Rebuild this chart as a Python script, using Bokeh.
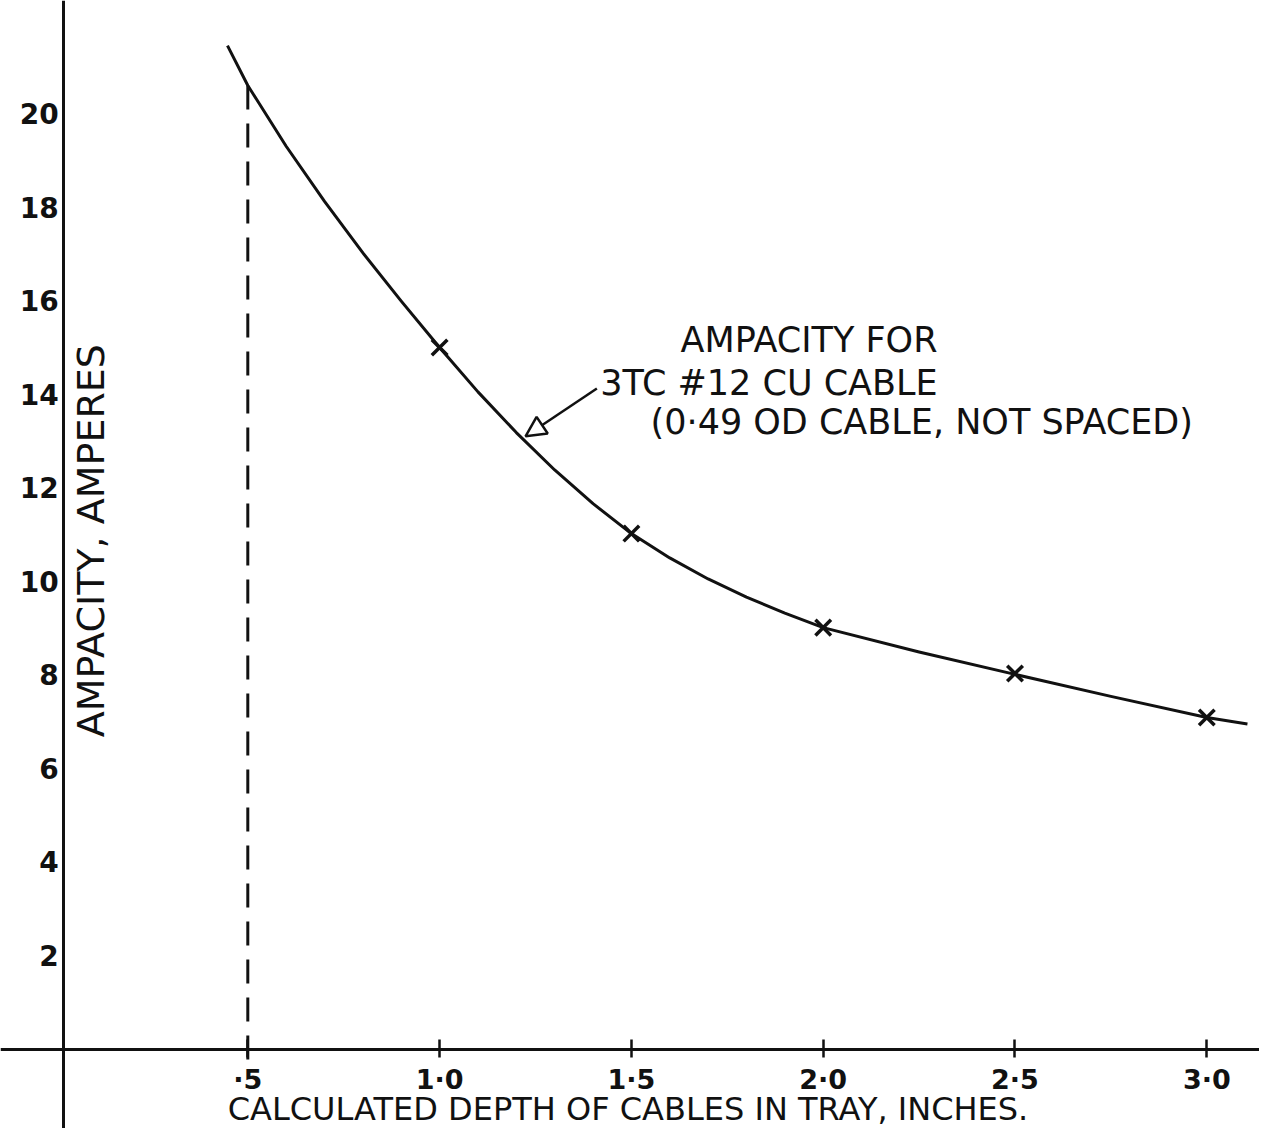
import math
from bokeh.plotting import figure
from bokeh.models import (Range1d, LinearAxis, FixedTicker, Label, Arrow,
                          NormalHead, CustomJSTickFormatter)
from bokeh.embed import file_html
from bokeh.resources import INLINE

# ---- data ----
curve_depth = [0.447, 0.5, 0.6, 0.7, 0.8, 0.9, 1.0, 1.1, 1.2, 1.3, 1.4, 1.5,
               1.6, 1.7, 1.8, 1.9, 2.0, 2.25, 2.5, 2.75, 3.0, 3.106]
curve_ampacity = [21.45, 20.6, 19.3, 18.12, 17.02, 15.99, 15.0, 14.05, 13.18,
                  12.38, 11.66, 11.02, 10.5, 10.05, 9.66, 9.32, 9.01, 8.49,
                  8.01, 7.54, 7.09, 6.95]

point_depth = [1.0, 1.5, 2.0, 2.5, 3.0]
point_ampacity = [15.0, 11.02, 9.01, 8.03, 7.09]

marked_depth = [0.5, 0.5]
marked_ampacity = [20.6, -0.3]

x_ticks = [0.5, 1.0, 1.5, 2.0, 2.5, 3.0]
x_tick_labels = ["·5", "1·0", "1·5", "2·0", "2·5", "3·0"]
y_ticks = [2, 4, 6, 8, 10, 12, 14, 16, 18, 20]
y_tick_labels = ["2", "4", "6", "8", "10", "12", "14", "16", "18", "20"]

x_title = "CALCULATED DEPTH OF CABLES IN TRAY, INCHES."
y_title = "AMPACITY, AMPERES"
note_lines = ["AMPACITY FOR", "3TC #12 CU CABLE", "(0·49 OD CABLE, NOT SPACED)"]

FONT = "DejaVu Sans"
INK = "#111111"

p = figure(width=1259, height=1128,
           x_range=Range1d(-0.1447, 3.1374), y_range=Range1d(-1.697, 22.416),
           output_backend="svg", toolbar_location=None, min_border=0,
           x_axis_type=None, y_axis_type=None)
p.outline_line_color = None
p.background_fill_color = "white"
p.border_fill_color = "white"

fmt_js = """
const i = tick_vals.findIndex(t => Math.abs(t - tick) < 1e-6);
return i >= 0 ? tick_text[i] : "";
"""

xaxis = LinearAxis(fixed_location=0,
                   ticker=FixedTicker(ticks=x_ticks),
                   formatter=CustomJSTickFormatter(args=dict(tick_vals=x_ticks, tick_text=x_tick_labels), code=fmt_js))
xaxis.axis_line_width = 3
xaxis.axis_line_color = INK
xaxis.major_tick_in = 10
xaxis.major_tick_out = 8
xaxis.major_tick_line_width = 2.5
xaxis.major_tick_line_color = INK
xaxis.minor_tick_line_color = None
xaxis.major_label_standoff = 7
xaxis.major_label_text_font = FONT
xaxis.major_label_text_font_size = "27px"
xaxis.major_label_text_font_style = "bold"
xaxis.major_label_text_color = INK
p.add_layout(xaxis, "below")

yaxis = LinearAxis(fixed_location=0.02,
                   ticker=FixedTicker(ticks=y_ticks),
                   formatter=CustomJSTickFormatter(args=dict(tick_vals=y_ticks, tick_text=y_tick_labels), code=fmt_js))
yaxis.axis_line_width = 3
yaxis.axis_line_color = INK
yaxis.major_tick_in = 0
yaxis.major_tick_out = 0
yaxis.minor_tick_line_color = None
yaxis.major_label_standoff = 5
yaxis.major_label_text_font = FONT
yaxis.major_label_text_font_size = "28px"
yaxis.major_label_text_font_style = "bold"
yaxis.major_label_text_color = INK
p.add_layout(yaxis, "left")

# dashed marker line at 0.5 in
p.line(marked_depth, marked_ampacity, line_color=INK, line_width=3, line_dash="24 14")

# fitted curve
p.line(curve_depth, curve_ampacity, line_color=INK, line_width=3, line_join="round")

# measured points
p.scatter(point_depth, point_ampacity, marker="x", size=22, line_color=INK, line_width=3.5)

# x-axis title (below the tick labels)
p.add_layout(Label(x=1.491, y=-1.68, text=x_title, text_align="center",
                   text_baseline="bottom", text_font=FONT,
                   text_font_size="32px", text_color=INK))

# y-axis title placed inside, right of the axis
p.add_layout(Label(x=0.09, y=10.87, text=y_title, angle=math.pi / 2,
                   text_align="center", text_baseline="middle",
                   text_font=FONT, text_font_size="38px", text_color=INK))

# annotation
note_x = [1.628, 1.419, 1.55]
note_y = [15.15, 14.23, 13.4]
for tx, ty, t in zip(note_x, note_y, note_lines):
    p.add_layout(Label(x=tx, y=ty, text=t, text_align="left", text_baseline="middle",
                       text_font=FONT, text_font_size="35px", text_color=INK))

p.add_layout(Arrow(x_start=1.41, y_start=14.12, x_end=1.224, y_end=13.1,
                   line_color=INK, line_width=2.5,
                   end=NormalHead(size=20, fill_color="white", line_color=INK, line_width=2.5)))

open("out.html", "w").write(file_html(p, INLINE))
